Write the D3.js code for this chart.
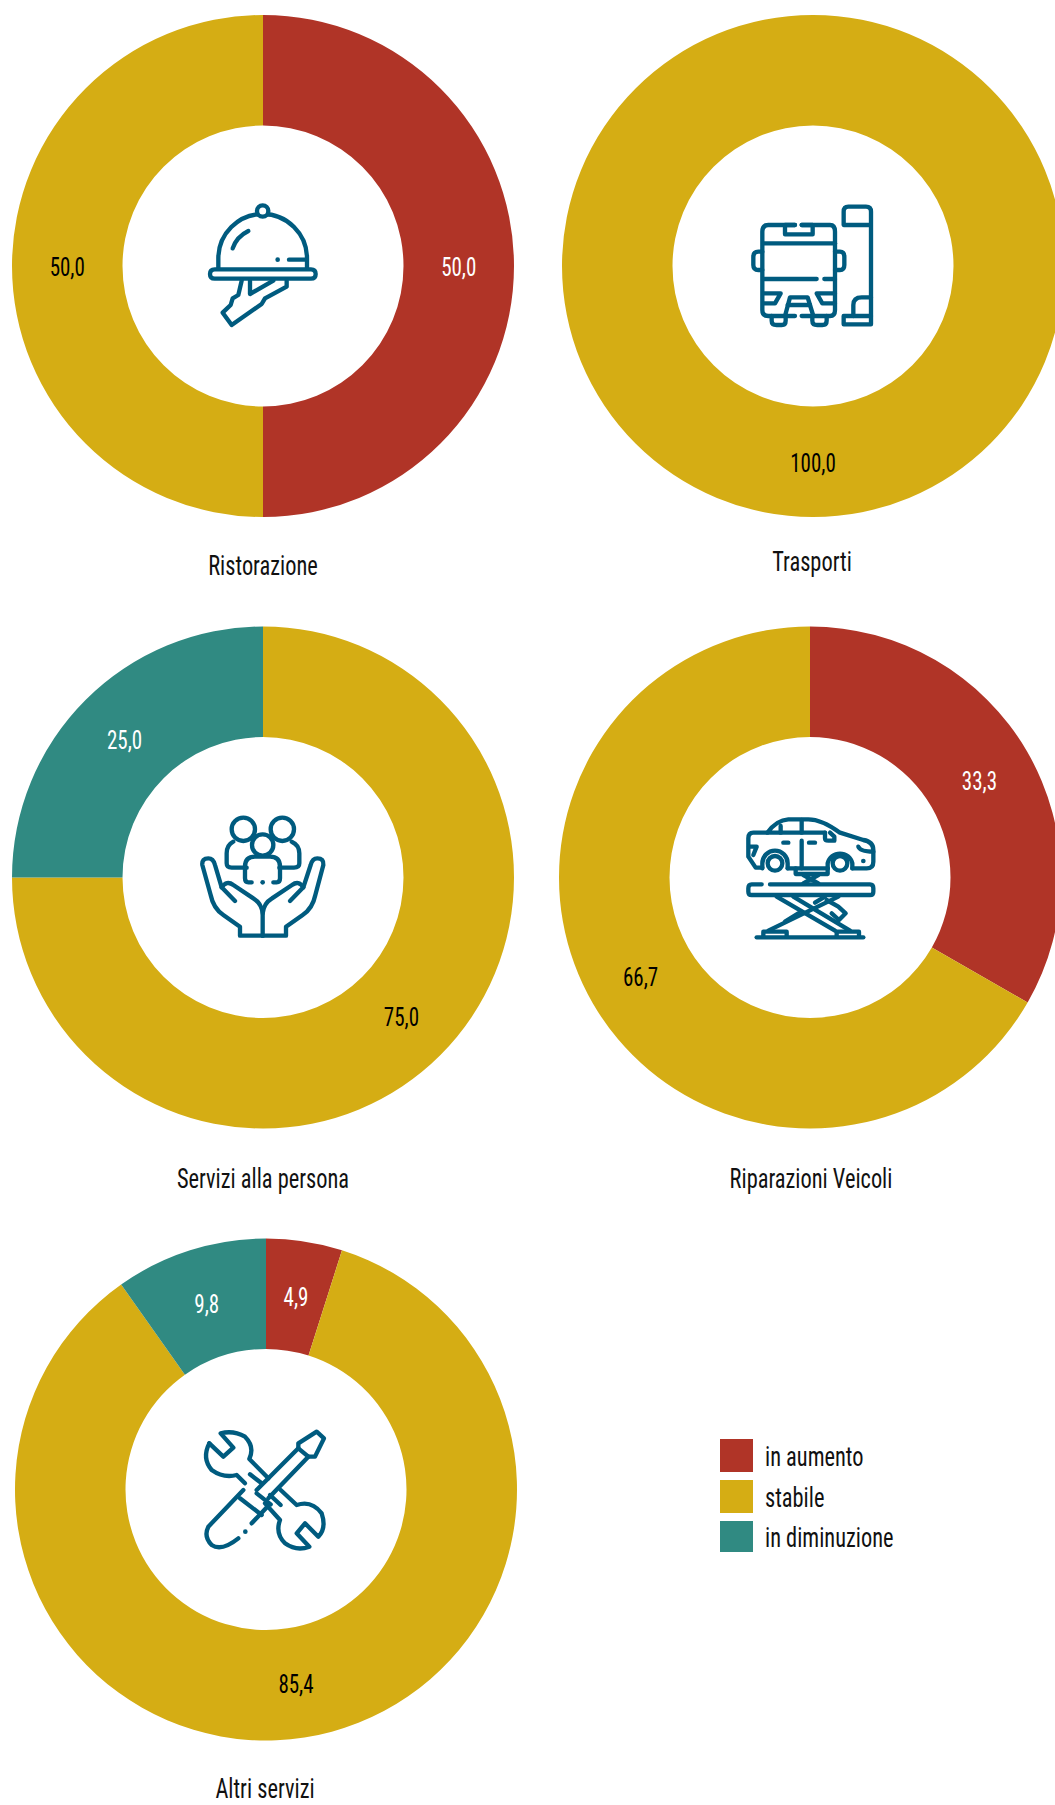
<!DOCTYPE html>
<html><head><meta charset="utf-8">
<script src="https://cdn.jsdelivr.net/npm/d3@7"></script>
<style>html,body{margin:0;padding:0;background:#fff;overflow:hidden}text{font-family:"Liberation Sans Narrow","Roboto Condensed",sans-serif}</style>
</head><body><svg id="c" width="1055" height="1805"></svg>
<script>
const categories=["in aumento","stabile","in diminuzione"];
const colors=["#B03427","#D5AD14","#308A82"];
const labelColors=["#fff","#000","#fff"];
const names=["Ristorazione","Trasporti","Servizi alla persona","Riparazioni Veicoli","Altri servizi"];
const ristorazione=[50.0,50.0,0];
const trasporti=[0,100.0,0];
const servizi=[0,75.0,25.0];
const riparazioni=[33.3,66.7,0];
const altri=[4.9,85.4,9.8];
const seriesList=[ristorazione,trasporti,servizi,riparazioni,altri];
const layout=[
 {cx:263,cy:266,tx:263,ty:565,ix:190,iy:190},
 {cx:813,cy:266,tx:812,ty:561,ix:735,iy:190},
 {cx:263,cy:877.5,tx:263,ty:1178,ix:190,iy:800},
 {cx:810,cy:877.5,tx:811,ty:1178,ix:735,iy:800},
 {cx:266,cy:1489.5,tx:265,ty:1788.5,ix:190,iy:1415}];
const iconPaths=[
 ["M85 235V205A133 133 0 0 1 351 205V235","M128 175Q140 140 175 123","M297 209H350","M60 252Q60 238 74 238H363Q377 238 377 252Q377 266 363 266H74Q60 266 60 252Z","M155 272L145 315L128 325L122 345L98 368L125 405L215 342L225 325L290 290V272","M180 272V312L250 272"],
 ["M180 105H100Q82 105 82 125V360Q82 378 100 378H180","M200 378H285Q300 378 300 360V125Q300 105 285 105H200","M180 105H150V133H233V105H200","M85 160H300","M85 267H245","M268 267H300","M82 185H70Q55 185 55 200V225Q55 240 70 240H82","M300 185H315Q328 185 328 200V225Q328 240 315 240H300","M85 310H137L120 340H85","M300 310H245L262 340H300","M150 378L165 322H218L235 378","M158 345H225","M110 378V392Q110 405 125 405H140Q152 405 152 392V378","M232 378V392Q232 405 247 405H262Q275 405 275 392V378","M408 378V65Q408 50 393 50H340Q326 50 326 65V105H408","M326 378H408V403H326Z","M355 378V345Q355 322 380 322H408"],
 ["M130 125Q110 135 110 160V190Q110 203 125 203H170","M305 125Q328 135 328 160V190Q328 203 312 203H268","M185 247H175Q165 247 165 235V200Q165 170 195 170H240Q270 170 270 200V235Q270 247 260 247H250",
  "M218 407V340Q215 310 190 295L130 255Q110 240 95 262L135 303","M218 407H150V380L100 345Q70 325 62 285L37 195Q35 175 55 175Q70 175 75 195L95 262",
  "M218 407H288V380L338 345Q368 325 376 285L400 195Q402 175 382 175Q367 175 362 195L340 262","M218 340Q221 310 246 295L306 255Q326 240 340 262L300 303"],
 ["M97 98H55Q40 98 40 115V170L62 203H82","M82 205V190A38 38 0 0 1 158 190V205","M158 205H278","M278 205V190A38 38 0 0 1 352 190V205","M352 205H395Q415 205 415 185V150Q415 125 385 120L315 98Q260 58 220 58H160Q125 60 97 98H270","M137 98V78","M200 60V98","M200 122V205","M145 128H160","M222 128H240","M270 98V115Q270 122 280 122H298V110L285 98","M370 140Q375 155 415 155","M42 140H65L55 165","M182 205V222H278V205","M205 225L250 250","M250 225L205 250","M80 253H50Q40 253 40 265V275Q40 285 50 285H405Q415 285 415 275V265Q415 253 405 253H105","M125 290L300 392","M175 290L345 392","M310 290L100 392","M270 290L240 308","M190 340L150 365","M275 300L310 320L332 340L312 360L290 340","M65 412H385","M85 410V395H155V410","M305 410V395H372V410"],
 ["M58 85L100 125L130 98L92 55Q130 45 165 65Q195 95 178 132L235 190","M58 85Q35 130 65 165Q100 190 140 180L165 205","M180 178L215 205","M272 225L320 270Q365 255 395 295Q410 340 385 365L345 325L320 355L358 395Q320 410 285 385Q255 355 270 315L225 265","M240 240L272 270","M325 85L380 50L402 70L375 125H355L325 100Z","M325 100L200 225","M355 125L235 250","M160 225L55 335Q40 365 65 390Q95 410 145 370","M232 275L185 325","M150 250L215 300","M200 235L242 268"]];
const iconRings=[[[218,63,17]],[],[[160,88,35],[277,88,35],[218,135,32]],[[120,190,22],[315,190,22]],[]];
const iconDots=[[[263,209]],[],[[218,247]],[[385,183]],[[166,350]]];
const iconColor="#005B7F";
const svg=d3.select("#c");
const pie=d3.pie().sort(null).value(d=>d);
const arc=d3.arc().innerRadius(140.5).outerRadius(251);
const fmt=v=>v.toFixed(1).replace(".",",");
seriesList.forEach((vals,i)=>{
 const L=layout[i];
 const g=svg.append("g").attr("transform",`translate(${L.cx},${L.cy})`);
 const arcs=pie(vals);
 g.selectAll("path").data(arcs).join("path").attr("d",arc).attr("fill",(d,k)=>colors[k]);
 g.selectAll("text").data(arcs.filter(d=>d.data>0)).join("text")
  .attr("text-anchor","middle").attr("dominant-baseline","central")
  .attr("font-size",25).attr("transform",d=>{const c=arc.centroid(d);return `translate(${c[0]},${c[1]+2}) scale(0.84,1)`;})
  .attr("fill",d=>labelColors[d.index]).text(d=>fmt(d.data));
 svg.append("text").attr("text-anchor","middle").attr("dominant-baseline","central")
  .attr("transform",`translate(${L.tx},${L.ty}) scale(0.8,1)`)
  .attr("font-size",28).attr("fill","#111").text(names[i]);
 const ic=svg.append("g").attr("transform",`translate(${L.ix},${L.iy}) scale(${1/3})`);
 ic.selectAll("path").data(iconPaths[i]).join("path").attr("d",d=>d).attr("fill","none").attr("stroke",iconColor).attr("stroke-width",13).attr("stroke-linecap","round").attr("stroke-linejoin","round");
 ic.selectAll("circle.r").data(iconRings[i]).join("circle").attr("class","r").attr("cx",d=>d[0]).attr("cy",d=>d[1]).attr("r",d=>d[2]).attr("fill",i===0?"#fff":"none").attr("stroke",iconColor).attr("stroke-width",13);
 ic.selectAll("circle.d").data(iconDots[i]).join("circle").attr("class","d").attr("cx",d=>d[0]).attr("cy",d=>d[1]).attr("r",7).attr("fill",iconColor);
});
const legY=d3.scalePoint().domain(categories).range([1439,1521]);
const legH=[33,33,31];
categories.forEach((c,k)=>{
 svg.append("rect").attr("x",720).attr("y",legY(c)).attr("width",33).attr("height",legH[k]).attr("fill",colors[k]);
 svg.append("text").attr("transform",`translate(765,${legY(c)+legH[k]/2+1}) scale(0.8,1)`).attr("dominant-baseline","central").attr("font-size",28).attr("fill","#111").text(c);
});
</script></body></html>
